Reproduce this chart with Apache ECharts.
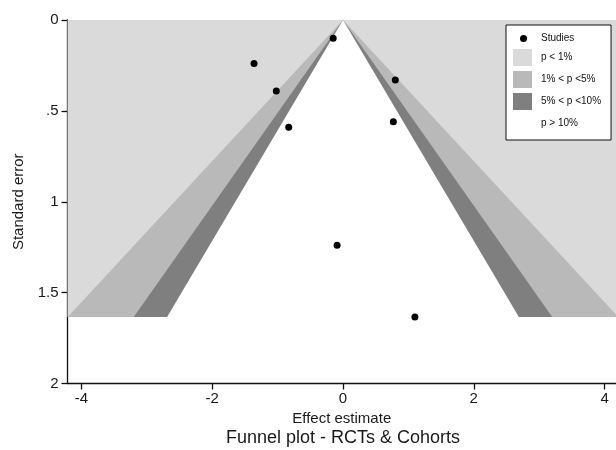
<!DOCTYPE html>
<html>
<head>
<meta charset="utf-8">
<script src="https://cdn.jsdelivr.net/npm/echarts@6/dist/echarts.min.js"></script>
<style>html,body{margin:0;padding:0;background:#fff;}#c{width:616px;height:450px;}</style>
</head>
<body>
<div id="c"></div>
<script>
// ---- data ----
const studyEffect = [-0.15, -1.36, -1.02, -0.83, 0.80, 0.77, -0.09, 1.10];
const studySE     = [0.10, 0.24, 0.39, 0.59, 0.33, 0.56, 1.24, 1.634];
const funnelApex = [0, 0];           // effect, se
const funnelSEMax = 1.634;           // se at funnel base
const bandNames = ['p < 1%', '1% < p <5%', '5% < p <10%', 'p > 10%'];
// half-width (effect units) of the outer edge of each band at the funnel base (null = whole plot)
const bandHalfWidth = [null, 4.21, 3.20, 2.69];
const xTicks = [-4, -2, 0, 2, 4];
const yTicks = [0, 0.5, 1, 1.5, 2];

const X_MIN = -4.213, X_MAX = 4.175;
const bandColors = ['#dadada', '#b9b9b9', '#7f7f7f', '#ffffff'];
const FONT = 'Liberation Sans, Arial, sans-serif';

const chart = echarts.init(document.getElementById('c'));

function bandSeries(i) {
  return {
    type: 'custom',
    name: bandNames[i],
    coordinateSystem: 'cartesian2d',
    clip: true,
    silent: true,
    z: 1 + i,
    itemStyle: { color: bandColors[i] },
    data: [[funnelApex[0], funnelApex[1], bandHalfWidth[i] === null ? 0 : bandHalfWidth[i]]],
    renderItem: function (params, api) {
      let pts;
      if (bandHalfWidth[i] === null) {
        pts = [[X_MIN, funnelApex[1]], [X_MAX, funnelApex[1]], [X_MAX, funnelSEMax], [X_MIN, funnelSEMax]];
      } else {
        const c = api.value(0), s0 = api.value(1), h = api.value(2);
        pts = [[c, s0], [c + h, funnelSEMax], [c - h, funnelSEMax]];
      }
      return {
        type: 'polygon',
        shape: { points: pts.map(p => api.coord(p)) },
        style: { fill: bandColors[i] }
      };
    }
  };
}

const option = {
  animation: false,
  backgroundColor: '#ffffff',
  title: {
    text: 'Funnel plot - RCTs & Cohorts',
    left: 343,
    textAlign: 'center',
    top: 429,
    padding: 0,
    textStyle: { fontFamily: FONT, fontSize: 18, fontWeight: 'normal', color: '#1a1a1a' }
  },
  legend: [
    {
      data: bandNames.map(n => ({ name: n, icon: 'rect' })),
      orient: 'vertical',
      left: 506,
      top: 25,
      padding: [24, 10, 8, 7],
      itemWidth: 19,
      itemHeight: 17,
      itemGap: 5,
      backgroundColor: '#ffffff',
      borderColor: '#111111',
      borderWidth: 1,
      borderRadius: 0,
      selectedMode: false,
      z: 10,
      textStyle: { fontFamily: FONT, fontSize: 10, color: '#111111', padding: [0, 0, 0, 4] }
    },
    {
      data: [{ name: 'Studies', icon: 'circle' }],
      orient: 'vertical',
      left: 520,
      top: 33.5,
      padding: 0,
      itemWidth: 7,
      itemHeight: 7,
      selectedMode: false,
      z: 11,
      itemStyle: { opacity: 1 },
      textStyle: { fontFamily: FONT, fontSize: 10, color: '#111111', padding: [0, 0, 0, 9] }
    }
  ],
  grid: { left: 67.5, top: 20, right: 0, bottom: 66.5, containLabel: false },
  xAxis: {
    type: 'value',
    min: X_MIN,
    max: X_MAX,
    name: 'Effect estimate',
    nameLocation: 'middle',
    nameGap: 24,
    nameTextStyle: { fontFamily: FONT, fontSize: 15, color: '#1a1a1a' },
    axisLine: { onZero: false, lineStyle: { color: '#111111', width: 1.3 } },
    axisTick: { show: true, length: 6, customValues: xTicks, lineStyle: { color: '#111111', width: 1.3 } },
    axisLabel: { customValues: xTicks, fontFamily: FONT, fontSize: 15, color: '#1a1a1a', margin: 8 },
    splitLine: { show: false }
  },
  yAxis: {
    type: 'value',
    inverse: true,
    min: 0,
    max: 2,
    interval: 0.5,
    name: 'Standard error',
    nameLocation: 'middle',
    nameGap: 41,
    nameTextStyle: { fontFamily: FONT, fontSize: 15, color: '#1a1a1a' },
    axisLine: { show: true, onZero: false, lineStyle: { color: '#111111', width: 1.3 } },
    axisTick: { show: true, length: 6, lineStyle: { color: '#111111', width: 1.3 } },
    axisLabel: {
      fontFamily: FONT, fontSize: 15, color: '#1a1a1a', margin: 9,
      formatter: v => String(v).replace(/^0\./, '.')
    },
    splitLine: { show: false }
  },
  series: [
    bandSeries(0), bandSeries(1), bandSeries(2), bandSeries(3),
    {
      type: 'scatter',
      name: 'Studies',
      z: 20,
      symbol: 'circle',
      symbolSize: 7,
      itemStyle: { color: '#000000', opacity: 1 },
      data: studyEffect.map((x, i) => [x, studySE[i]])
    }
  ]
};
chart.setOption(option);
</script>
</body>
</html>
